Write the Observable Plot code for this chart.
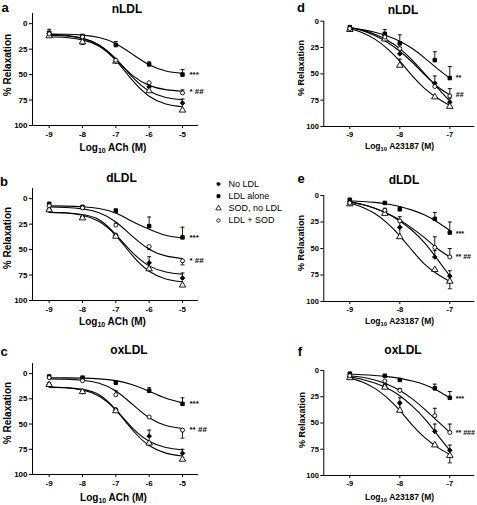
<!DOCTYPE html>
<html><head><meta charset="utf-8">
<script src="https://cdn.jsdelivr.net/npm/d3@7"></script>
<script src="https://cdn.jsdelivr.net/npm/@observablehq/plot@0.6"></script>
<style>
body{margin:0;background:#fff;}
#fig{position:relative;width:477px;height:505px;overflow:hidden;font-family:"Liberation Sans",Arial,sans-serif;color:#000;background:#fff;}
.t{position:absolute;transform:translate(-50%,-50%);white-space:nowrap;font-weight:bold;line-height:1;}
.yl{transform:translate(-50%,-50%) rotate(-90deg);}
.panel{position:absolute;}
.panel svg{background:transparent !important;overflow:visible;max-width:none !important;}
sub{font-size:70%;vertical-align:-0.3em;line-height:0;}
</style></head><body><div id="fig"></div>
<script>
// ---------- data ----------
const series = ["No LDL", "LDL alone", "SOD, no LDL", "LDL + SOD"];
const doseACh = [-9, -8, -7, -6, -5];
const doseA23187 = [-9, -8.3, -8, -7.3, -7];
const fitXACh = [-9, -8.5, -8, -7.5, -7, -6.5, -6, -5.5, -5];
const fitXA23187 = [-9, -8.75, -8.5, -8.25, -8, -7.75, -7.5, -7.25, -7];
const yTicks = [0, 25, 50, 75, 100];
const xTicksACh = [-9, -8, -7, -6, -5];
const xTicksA23187 = [-9, -8, -7];

// panel a (nLDL, ACh)
const aMean = [[10, 13, 37, 62, 78], [9, 12, 21, 40, 50], [12, 18, 37, 66, 85], [10, 13, 36, 58, 68]];
const aSem = [[-2, 0, -2, -3, -4], [-3.5, 0, -3.5, -2.5, -5], [0, 2.5, 0, 0, 0], [0, 0, 0, 0, -3]];
const aFit = [
  [11.4, 12.1, 14.5, 20.8, 34.4, 52.6, 66.2, 72.5, 74.9],
  [10.1, 10.4, 11.2, 13.6, 19.6, 30, 40.4, 46.4, 48.8],
  [12.9, 13.6, 15.9, 22.1, 36, 55.7, 71.2, 78.9, 81.6],
  [10.5, 11.4, 14.2, 21.4, 35.3, 50.7, 60.6, 64.8, 66.3]];
const aNoteText = ["***", "* ##"], aNoteY = [50, 67];

// panel b (dLDL, ACh)
const bMean = [[11, 18, 36, 63, 78], [5, 8, 12, 27, 38], [11, 19, 37, 69, 85], [7, 9, 26, 47, 61]];
const bSem = [[0, 0, -1.5, -6, -5], [-1, 0, -2, -9, -10], [-1.5, 0, 0, 0, 0], [0, 0, -2, 3, 4]];
const bFit = [
  [13.3, 13.8, 15.5, 20.7, 35.3, 53, 66, 72, 74.2],
  [7.1, 7.3, 7.9, 9.6, 14, 22.5, 30, 36, 38.6],
  [13.4, 14.1, 16.3, 22.5, 36.3, 55.9, 71.3, 78.8, 81.6],
  [8.2, 8.6, 10, 13.8, 22.9, 37, 49.6, 56.2, 58.7]];
const bNoteText = ["***", "* ##"], bNoteY = [38, 61];

// panel c (oxLDL, ACh)
const cMean = [[11, 18, 36, 62, 79], [3, 4, 9, 17, 30], [11, 18, 37, 69, 85], [4, 7, 21, 43, 56]];
const cSem = [[0, 0, -1.5, -6, -4], [-1.5, 0, -1, -3, -6], [-2, 0, 0, 0, 0], [0, 0, -4, 0, 8]];
const cFit = [
  [13.3, 13.9, 15.6, 21, 35.8, 54, 67, 73.2, 75.6],
  [4.1, 4.2, 4.5, 5.2, 7, 11, 17.5, 24.5, 29],
  [13.4, 14.1, 16.3, 22.5, 36.3, 55.9, 71.3, 78.8, 81.6],
  [5.2, 5.5, 6.6, 9.6, 17.2, 30.5, 43.8, 51.4, 54.4]];
const cNoteText = ["***", "** ##"], cNoteY = [30, 55.5];

// panel d (nLDL, A23187)
const dMean = [[7, 14, 31, 59, 77], [6, 12, 21, 37, 54], [8, 17, 42, 72, 81], [7, 15, 26, 62, 71]];
const dSem = [[0, -3, -6, -7, -4], [-2, -4, -8, -8, -11], [0, -2, -6, 0, 0], [0, -2, -5, -4, -7]];
const dFit = [
  [6, 8.5, 12.5, 18, 26, 37, 50, 63, 76],
  [6, 8, 10.5, 14, 19, 26, 35, 45, 54],
  [7, 11, 17, 26, 38, 52, 64, 73, 80],
  [6, 9, 13.5, 20, 28.5, 39, 51, 62, 70]];
const dNoteText = ["**", "##"], dNoteY = [54, 70];

// panel e (dLDL, A23187)
const eMean = [[6, 15, 30, 58, 76], [4, 7, 13, 22, 35], [8, 17, 39, 70, 81], [7, 14, 24, 49, 58]];
const eSem = [[0, -2, -5, -6, -5], [-1, 0, -2, -6, -10], [0, -3, -9, 0, 7], [0, -2, -4, -10, -8]];
const eFit = [
  [6, 8.5, 12, 17, 24, 33, 45, 60, 76],
  [5, 5.6, 6.5, 8, 10.3, 13.8, 18.5, 25, 33],
  [7, 11, 17, 26, 38, 52, 65, 74, 81],
  [6, 8.5, 12, 17, 23, 31, 40, 50, 58]];
const eNoteText = ["***", "** ##"], eNoteY = [36, 58];

// panel f (oxLDL, A23187)
const fMean = [[6, 15, 31, 58, 76], [3, 5, 9, 17, 26], [7, 16, 38, 71, 81], [5, 10, 19, 43, 59]];
const fSem = [[0, -2, -5, -7, -5], [0, 0, 0, -4, -6], [0, -3, -8, 0, 7], [0, 0, -2, -7, -8]];
const fFit = [
  [6, 8.5, 12, 17, 24, 34, 46, 61, 76],
  [3.5, 4, 4.7, 5.8, 7.5, 10, 13.5, 19, 26],
  [7, 11, 17, 26, 38, 52, 64, 73, 80],
  [5, 6.5, 9, 13, 19, 27, 37, 48, 59]];
const fNoteText = ["***", "** ###"], fNoteY = [27, 59.5];

// ---------- styles ----------
const seriesStyle = [
  {symbol: "diamond2", fill: "black", r: 2.1},
  {symbol: "square", fill: "black", r: 2},
  {symbol: "triangle", fill: "white", r: 2.4},
  {symbol: "circle", fill: "white", r: 2}];
const cap = {draw(ctx, size) { const w = Math.sqrt(size / Math.PI); ctx.moveTo(-w, 0); ctx.lineTo(w, 0); }};
const fig = document.getElementById("fig");

function panel(cfg) {
  const pts = [], fits = [];
  series.forEach((s, i) => {
    cfg.dose.forEach((x, j) => pts.push({s, i, x, y: cfg.mean[i][j], e: cfg.mean[i][j] + cfg.sem[i][j], err: cfg.sem[i][j] !== 0}));
    cfg.fitX.forEach((x, j) => fits.push({s, x, y: cfg.fit[i][j]}));
  });
  const xLast = cfg.dose[cfg.dose.length - 1];
  const notes = cfg.noteText.map((t, k) => ({t, x: xLast, y: cfg.noteY[k]}));
  const errs = pts.filter(d => d.err);
  const svg = Plot.plot({
    width: cfg.w, height: cfg.h,
    marginTop: cfg.mt, marginBottom: cfg.mb, marginLeft: cfg.ml, marginRight: cfg.mr,
    x: {domain: cfg.xDomain, ticks: cfg.xTicks, tickSize: 3, tickPadding: cfg.xpad, tickFormat: d => String(d), label: null, line: true},
    y: {domain: cfg.yDomain, reverse: true, ticks: yTicks, tickSize: 3, tickPadding: 2, tickFormat: d => String(d), label: null, line: true},
    style: {fontFamily: "'Liberation Sans', Arial, sans-serif", fontSize: cfg.fs + "px", fontWeight: "bold", background: "transparent", overflow: "visible", color: "black"},
    marks: [
      Plot.line(fits, {x: "x", y: "y", z: "s", stroke: "black", strokeWidth: 1.1, curve: "natural"}),
      Plot.ruleX(errs, {x: "x", y1: "y", y2: "e", stroke: "black", strokeWidth: 0.9}),
      Plot.dot(errs, {x: "x", y: "e", symbol: cap, r: 2, stroke: "black", strokeWidth: 0.9, fill: "none"}),
      ...series.map((s, i) => Plot.dot(pts.filter(d => d.i === i), {x: "x", y: "y", symbol: seriesStyle[i].symbol, r: seriesStyle[i].r, fill: seriesStyle[i].fill, stroke: "black", strokeWidth: 0.9})),
      Plot.text(notes, {x: "x", y: "y", text: "t", dx: cfg.ndx, textAnchor: "start", fontSize: cfg.nfs, fontWeight: "bold"})
    ]
  });
  const div = document.createElement("div");
  div.className = "panel";
  div.style.left = cfg.left + "px";
  div.style.top = cfg.top + "px";
  div.appendChild(svg);
  fig.appendChild(div);
}

const left = {w: 240, ml: 32, mr: 43, xDomain: [-9.5, -4.55], xTicks: xTicksACh, dose: doseACh, fitX: fitXACh, yDomain: [-10, 100], xpad: 3, fs: 8, left: 0, ndx: 7, nfs: 8};
const right = {w: 197, ml: 43.3, mr: 3.7, xDomain: [-9.52, -6.52], xTicks: xTicksA23187, dose: doseA23187, fitX: fitXA23187, yDomain: [0, 100], xpad: 2, fs: 7.5, left: 280, ndx: 6, nfs: 7};

panel({...left, top: 0, h: 165, mt: 13, mb: 40, mean: aMean, sem: aSem, fit: aFit, noteText: aNoteText, noteY: aNoteY});
panel({...left, top: 175, h: 165, mt: 13, mb: 40, mean: bMean, sem: bSem, fit: bFit, noteText: bNoteText, noteY: bNoteY});
panel({...left, top: 350, h: 155, mt: 13, mb: 31, mean: cMean, sem: cSem, fit: cFit, noteText: cNoteText, noteY: cNoteY});
panel({...right, top: 8, h: 158, mt: 12.7, mb: 40, mean: dMean, sem: dSem, fit: dFit, noteText: dNoteText, noteY: dNoteY});
panel({...right, top: 183, h: 158, mt: 12, mb: 40, mean: eMean, sem: eSem, fit: eFit, noteText: eNoteText, noteY: eNoteY});
panel({...right, top: 358, h: 147, mt: 12, mb: 30, mean: fMean, sem: fSem, fit: fFit, noteText: fNoteText, noteY: fNoteY});

// legend
(function () {
  const svg = Plot.plot({
    width: 90, height: 52, margin: 0,
    x: {domain: [0, 1], range: [8, 18], axis: null},
    y: {domain: [0, 3], range: [7.5, 44], axis: null},
    style: {fontFamily: "'Liberation Sans', Arial, sans-serif", fontSize: "9px", background: "transparent", overflow: "visible"},
    marks: [
      ...series.map((s, i) => Plot.dot([s], {x: () => 0, y: () => i, symbol: seriesStyle[i].symbol, r: seriesStyle[i].r * 0.85, fill: seriesStyle[i].fill, stroke: "black", strokeWidth: 0.8})),
      Plot.text(series, {x: () => 1, y: (d, i) => i, text: d => d, textAnchor: "start", fontSize: 9})
    ]
  });
  const div = document.createElement("div");
  div.className = "panel";
  div.style.left = "210px"; div.style.top = "176px";
  div.appendChild(svg);
  fig.appendChild(div);
})();

// text labels
const texts = [
  ["a", 5, 7, 13, ""], ["b", 4, 181, 13, ""], ["c", 4, 351, 13, ""],
  ["d", 301, 7, 13, ""], ["e", 301, 178, 13, ""], ["f", 300, 351, 13, ""],
  ["nLDL", 127, 9, 12, ""], ["dLDL", 121.5, 178, 12, ""], ["oxLDL", 129, 350, 12, ""],
  ["nLDL", 403, 10, 12, ""], ["dLDL", 404, 180, 12, ""], ["oxLDL", 403, 350, 12, ""],
  ["Log<sub>10</sub> ACh (M)", 113, 147.5, 10, ""], ["Log<sub>10</sub> ACh (M)", 112.5, 321.5, 10, ""], ["Log<sub>10</sub> ACh (M)", 113.5, 498, 10, ""],
  ["Log<sub>10</sub> A23187 (M)", 399.5, 146, 8.5, ""], ["Log<sub>10</sub> A23187 (M)", 399.5, 321, 8.5, ""], ["Log<sub>10</sub> A23187 (M)", 399.5, 497, 8.5, ""],
  ["% Relaxation", 7.5, 65, 10, "yl"], ["% Relaxation", 7.5, 237.5, 10, "yl"], ["% Relaxation", 7.5, 413, 10, "yl"],
  ["% Relaxation", 301, 68, 9, "yl"], ["% Relaxation", 301, 243, 9, "yl"], ["% Relaxation", 301.5, 420, 9, "yl"]
];
texts.forEach(([html, x, y, fs, cls]) => {
  const el = document.createElement("div");
  el.className = "t " + cls;
  el.style.left = x + "px"; el.style.top = y + "px"; el.style.fontSize = fs + "px";
  el.innerHTML = html;
  fig.appendChild(el);
});
</script></body></html>
